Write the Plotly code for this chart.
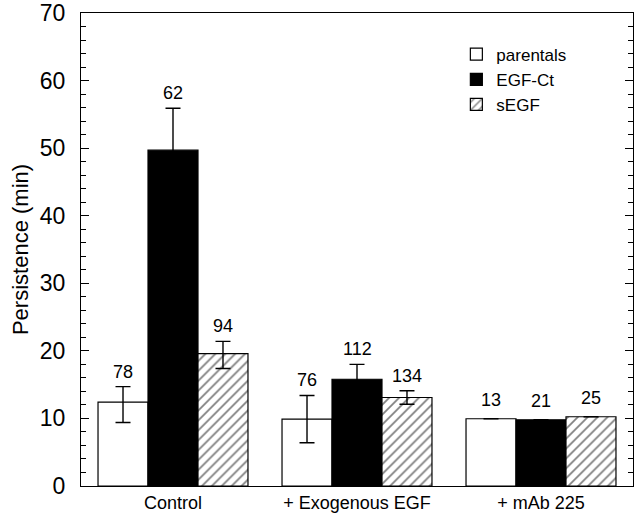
import plotly.graph_objects as go

categories = ["Control", "+ Exogenous EGF", "+ mAb 225"]
series_names = ["parentals", "EGF-Ct", "sEGF"]

parentals = [12.4, 9.9, 9.95]
parentals_err_up = [2.3, 3.5, 0]
parentals_err_down = [3.0, 3.5, 0]
parentals_n = ["78", "76", "13"]

egfct = [49.7, 15.8, 9.8]
egfct_err_up = [6.2, 2.2, 0]
egfct_err_down = [6.2, 2.2, 0]
egfct_n = ["62", "112", "21"]

segf = [19.6, 13.1, 10.25]
segf_err_up = [1.8, 1.0, 0]
segf_err_down = [2.2, 1.0, 0]
segf_n = ["94", "134", "25"]

y_ticks = [0, 10, 20, 30, 40, 50, 60, 70]

FONT = "Liberation Sans, Arial, Helvetica, sans-serif"
BARGAP = 0.185

fig = go.Figure()

styles = [
    dict(color="white", pattern=None),
    dict(color="black", pattern=None),
    dict(color="white", pattern=dict(shape="/", fgcolor="black", bgcolor="white", size=7, solidity=0.25)),
]
data = [
    (parentals, parentals_err_up, parentals_err_down, parentals_n),
    (egfct, egfct_err_up, egfct_err_down, egfct_n),
    (segf, segf_err_up, segf_err_down, segf_n),
]

for name, st, (vals, eu, ed, ns) in zip(series_names, styles, data):
    marker = dict(color=st["color"], line=dict(color="black", width=1.2))
    if st["pattern"] is not None:
        marker["pattern"] = st["pattern"]
    fig.add_trace(go.Bar(
        x=categories, y=vals, name=name, marker=marker,
        error_y=dict(type="data", array=eu, arrayminus=ed, symmetric=False,
                     color="black", thickness=1.4, width=7.5, visible=True),
    ))

# n labels above bars
bw = (1 - BARGAP) / 3
for si, (vals, eu, ed, ns) in enumerate(data):
    for ci in range(len(categories)):
        top = vals[ci] + eu[ci]
        fig.add_annotation(
            x=ci + (si - 1) * bw, y=top, xref="x", yref="y",
            text=ns[ci], showarrow=False, yanchor="bottom",
            yshift=3 if eu[ci] > 0 else 7,
            font=dict(family=FONT, size=18, color="black"),
        )

fig.update_layout(
    width=640, height=523,
    margin=dict(l=81, r=7, t=13, b=37),
    paper_bgcolor="white", plot_bgcolor="white",
    barmode="group", bargap=BARGAP, bargroupgap=0,
    font=dict(family=FONT, color="black"),
    legend=dict(
        x=0.68, y=0.95, xanchor="left", yanchor="top",
        font=dict(family=FONT, size=17, color="black"),
        bgcolor="rgba(0,0,0,0)", tracegroupgap=0,
        traceorder="normal",
    ),
    showlegend=True,
)

fig.update_xaxes(
    type="category", range=[-0.5, 2.5], automargin=False,
    showline=True, linecolor="black", linewidth=1.3, mirror=True,
    ticks="", showgrid=False, zeroline=False,
    tickfont=dict(family=FONT, size=18, color="black"),
    ticklabelstandoff=0,
)
fig.update_yaxes(
    range=[0, 70], tickvals=y_ticks, automargin=False,
    showline=True, linecolor="black", linewidth=1.3, mirror="ticks",
    ticks="inside", ticklen=8, tickwidth=1.2, tickcolor="black",
    minor=dict(dtick=2, ticks="inside", ticklen=5, tickwidth=1, tickcolor="black", showgrid=False),
    showgrid=False, zeroline=False,
    tickfont=dict(family=FONT, size=23, color="black"),
    ticklabelstandoff=10,
    title=dict(text="Persistence (min)", font=dict(family=FONT, size=22, color="black"), standoff=4),
)

# remove the default page margin so the figure fills the window exactly
fig.write_html("out.html", config={"displayModeBar": False},
               post_script="document.body.style.margin='0';")
